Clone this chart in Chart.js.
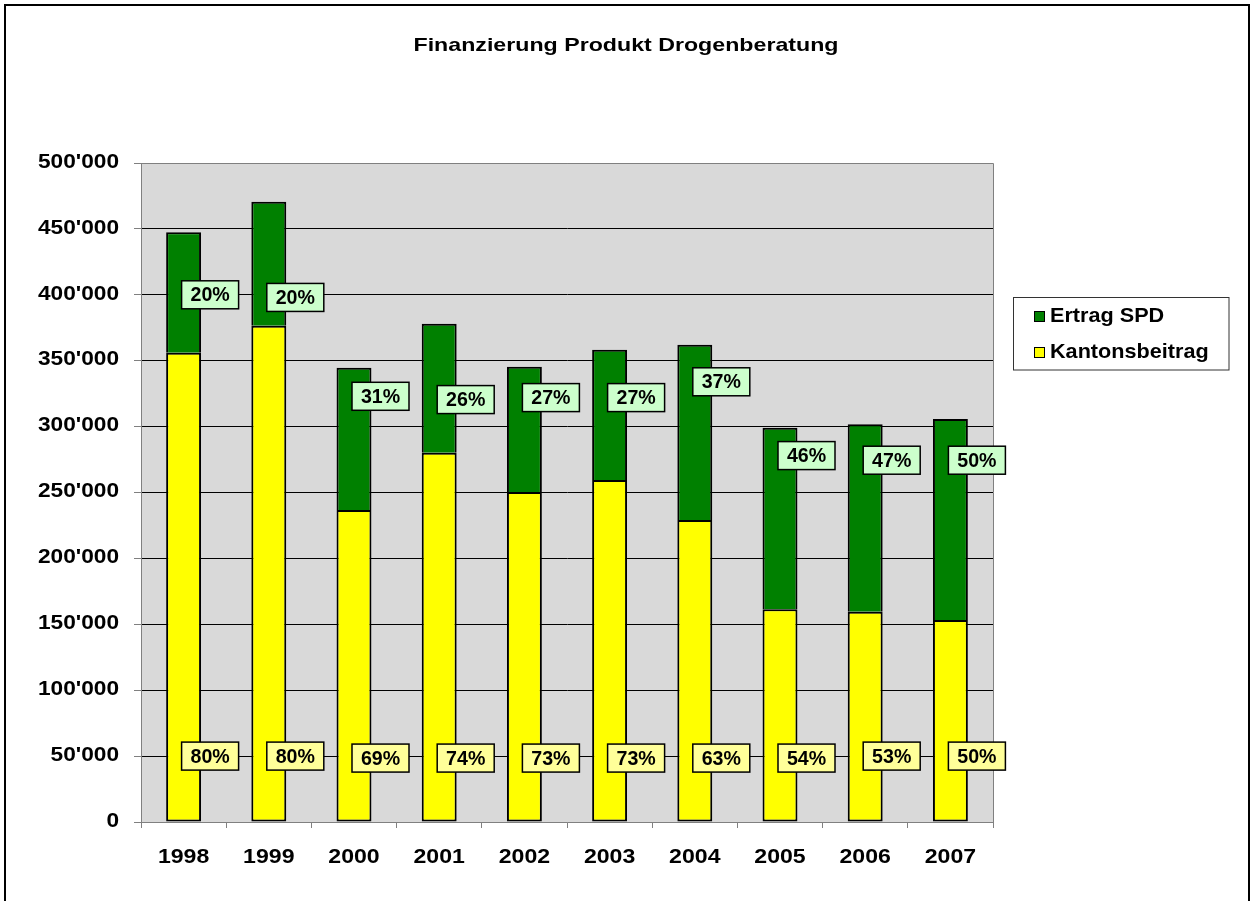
<!DOCTYPE html>
<html>
<head>
<meta charset="utf-8">
<script src="https://cdn.jsdelivr.net/npm/chart.js@4.4.1/dist/chart.umd.min.js"></script>
<style>
  html, body { margin: 0; padding: 0; background: #fff; }
  canvas { display: block; }
</style>
</head>
<body>
<canvas id="chart" width="1258" height="901"></canvas>
<script>
// Data
const years = ['1998', '1999', '2000', '2001', '2002', '2003', '2004', '2005', '2006', '2007'];
const kantonsbeitrag = [356100, 376600, 236700, 280200, 250400, 259500, 229100, 161400, 159600, 153300];
const ertragSPD = [91300, 94000, 108000, 97900, 95100, 98900, 133000, 137800, 142100, 152500];
const ertragPct = ['20%', '20%', '31%', '26%', '27%', '27%', '37%', '46%', '47%', '50%'];
const kantonPct = ['80%', '80%', '69%', '74%', '73%', '73%', '63%', '54%', '53%', '50%'];
// where the label boxes sit, in axis units (moved by hand in the original)
const ertragLabelAt = [400000, 398000, 323000, 320500, 322000, 322000, 334000, 278000, 274500, 274500];
const kantonLabelAt = [50000, 50000, 48500, 48500, 48500, 48500, 48500, 48500, 50000, 50000];
const yTickLabels = ['0', "50'000", "100'000", "150'000", "200'000", "250'000", "300'000", "350'000", "400'000", "450'000", "500'000"];

const FONT = '"Liberation Sans", Arial, sans-serif';
const GREEN = '#008000';
const YELLOW = '#ffff00';

// stretched text, the original looks a bit wider than plain Arial
function drawText(ctx, text, x, y, font, align, sx) {
    ctx.save();
    ctx.font = font;
    ctx.fillStyle = '#000';
    ctx.textBaseline = 'middle';
    ctx.textAlign = align;
    ctx.translate(x, y);
    ctx.scale(sx, 1);
    ctx.fillText(text, 0, 0);
    ctx.restore();
}

function drawLabelBox(ctx, text, left, cy, fill) {
    const w = 57, h = 28;
    ctx.save();
    ctx.fillStyle = fill;
    ctx.fillRect(left, cy - h / 2, w, h);
    ctx.strokeStyle = '#000';
    ctx.lineWidth = 1.5;
    ctx.strokeRect(left, cy - h / 2, w, h);
    ctx.restore();
    drawText(ctx, text, left + w / 2, cy + 1, 'bold 20px ' + FONT, 'center', 0.98);
}

const excelLook = {
    id: 'excelLook',
    beforeDraw(chart) {
        const { ctx, chartArea: a } = chart;
        ctx.save();
        ctx.fillStyle = '#d9d9d9';
        ctx.fillRect(a.left, a.top, a.right - a.left, a.bottom - a.top);
        ctx.restore();
    },
    beforeDatasetsDraw(chart) {
        const { ctx, chartArea: a } = chart;
        ctx.save();
        ctx.strokeStyle = '#808080';
        ctx.lineWidth = 1;
        ctx.beginPath();
        ctx.moveTo(a.left, a.top + 0.5);
        ctx.lineTo(a.right + 0.5, a.top + 0.5);
        ctx.lineTo(a.right + 0.5, a.bottom);
        ctx.stroke();
        ctx.restore();
    },
    afterDatasetsDraw(chart) {
        const { ctx } = chart;
        const x = chart.scales.x, y = chart.scales.y;
        years.forEach((yr, i) => {
            const cx = x.getPixelForValue(i);
            drawLabelBox(ctx, ertragPct[i], cx - 2, y.getPixelForValue(ertragLabelAt[i]), '#ccffcc');
            drawLabelBox(ctx, kantonPct[i], cx - 2, y.getPixelForValue(kantonLabelAt[i]), '#ffff99');
        });
    },
    afterDraw(chart) {
        const { ctx } = chart;
        const x = chart.scales.x, y = chart.scales.y;

        // axis labels
        y.ticks.forEach((t, i) => {
            drawText(ctx, yTickLabels[i], 119, y.getPixelForValue(t.value) - 1, 'bold 21px ' + FONT, 'right', 1.08);
        });
        years.forEach((yr, i) => {
            drawText(ctx, yr, x.getPixelForValue(i), 857, 'bold 21px ' + FONT, 'center', 1.1);
        });

        // title
        drawText(ctx, 'Finanzierung Produkt Drogenberatung', 626, 46, 'bold 19px ' + FONT, 'center', 1.22);

        // legend
        ctx.save();
        ctx.fillStyle = '#fff';
        ctx.fillRect(1013.5, 297.5, 215.5, 72.5);
        ctx.strokeStyle = '#333';
        ctx.lineWidth = 1;
        ctx.strokeRect(1013.5, 297.5, 215.5, 72.5);
        [[GREEN, 311], [YELLOW, 347]].forEach(([c, top]) => {
            ctx.fillStyle = c;
            ctx.fillRect(1034.5, top + 0.5, 10, 10);
            ctx.strokeStyle = '#000';
            ctx.strokeRect(1034.5, top + 0.5, 10, 10);
        });
        ctx.restore();
        drawText(ctx, 'Ertrag SPD', 1050, 316, 'bold 21px ' + FONT, 'left', 1.03);
        drawText(ctx, 'Kantonsbeitrag', 1050, 352, 'bold 21px ' + FONT, 'left', 1.03);

        // outer frame
        ctx.save();
        ctx.strokeStyle = '#000';
        ctx.lineWidth = 2;
        ctx.strokeRect(5, 5, 1244, 910);
        ctx.restore();
    }
};

new Chart(document.getElementById('chart'), {
    type: 'bar',
    data: {
        labels: years,
        datasets: [
            {
                label: 'Kantonsbeitrag',
                data: kantonsbeitrag,
                backgroundColor: YELLOW,
                borderColor: '#000',
                borderWidth: 2,
                borderSkipped: false,
                barPercentage: 0.41,
                categoryPercentage: 1
            },
            {
                label: 'Ertrag SPD',
                data: ertragSPD,
                backgroundColor: GREEN,
                borderColor: '#000',
                borderWidth: 2,
                borderSkipped: 'bottom',
                barPercentage: 0.41,
                categoryPercentage: 1
            }
        ]
    },
    options: {
        responsive: false,
        animation: false,
        layout: { padding: { top: 163, right: 265, bottom: 0, left: 0 } },
        plugins: {
            legend: { display: false },
            title: { display: false },
            tooltip: { enabled: false }
        },
        scales: {
            x: {
                stacked: true,
                afterFit: s => { s.height = 79; },
                ticks: { display: false },
                grid: { drawOnChartArea: false, drawTicks: true, tickLength: 6, tickColor: '#808080', offset: true },
                border: { color: '#808080', width: 1 }
            },
            y: {
                stacked: true,
                min: 0,
                max: 500000,
                afterFit: s => { s.width = 141; },
                ticks: { display: false, stepSize: 50000 },
                grid: {
                    color: c => (c.tick && (c.tick.value === 0 || c.tick.value === 500000)) ? '#808080' : '#000',
                    tickColor: '#808080',
                    tickLength: 7,
                    lineWidth: 1
                },
                border: { color: '#808080', width: 1 }
            }
        }
    },
    plugins: [excelLook]
});
</script>
</body>
</html>
